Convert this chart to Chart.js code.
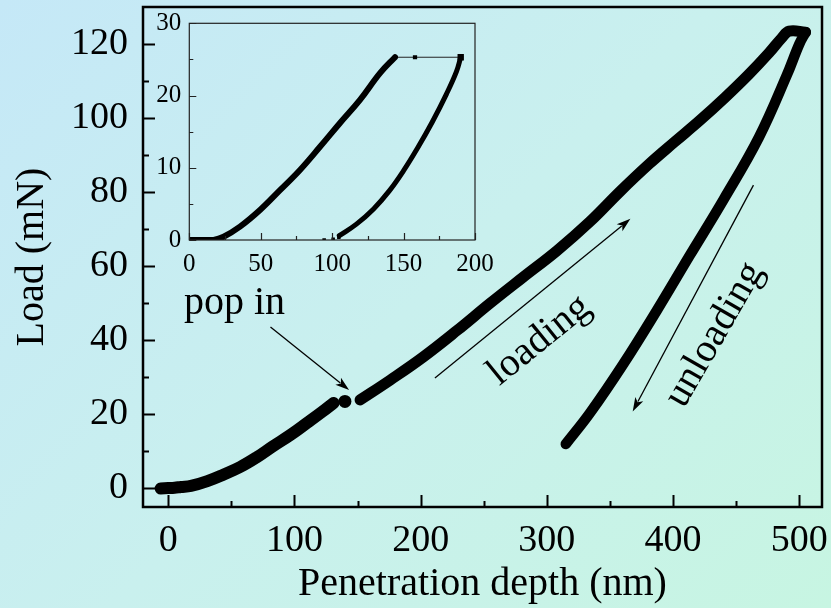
<!DOCTYPE html>
<html>
<head>
<meta charset="utf-8">
<script src="https://cdn.jsdelivr.net/npm/chart.js@4/dist/chart.umd.min.js"></script>
<style>
  html, body { margin: 0; padding: 0; }
  body {
    width: 831px; height: 608px; overflow: hidden; position: relative;
    background: linear-gradient(135deg, #c5e8f7 0%, #c9f0ee 50%, #c7f5e2 100%);
  }
  #main { position: absolute; left: 0; top: 0; }
  #inset { position: absolute; left: 140px; top: 0; }
</style>
</head>
<body>
<canvas id="main" width="831" height="608"></canvas>
<canvas id="inset" width="370" height="280"></canvas>
<script>
// main curve: loading up to the pop-in, the pop-in point, then loading + unloading
const loadDepthA = [-6, 0, 5, 10, 18, 31, 44, 57, 70, 83, 97, 110, 122, 131];
const loadForceA = [0, 0.1, 0.2, 0.4, 0.7, 2.0, 3.8, 5.8, 8.4, 11.4, 14.5, 17.7, 20.7, 23.1];
const popInDepth = [140];
const popInForce = [23.5];
const loadDepthB = [152, 176, 202, 229, 255, 281, 308, 334, 358, 381, 401, 421, 441, 460, 476, 486, 492, 505];
const loadForceB = [23.9, 29.3, 35.5, 42.7, 50.0, 57.0, 64.2, 72.0, 80.2, 87.6, 93.5, 99.3, 105.5, 111.8, 117.6, 121.6, 123.5, 123.2];
const unloadDepth = [500, 490, 468, 440, 413, 387, 360, 334, 315];
const unloadForce = [120, 111.5, 94.8, 78.0, 62.8, 48.0, 33.3, 20.3, 12];

const mainXTicks = [0, 100, 200, 300, 400, 500];
const mainXMinor = [50, 150, 250, 350, 450];
const mainYTicks = [0, 20, 40, 60, 80, 100, 120];
const mainYMinor = [10, 30, 50, 70, 90, 110];

// inset curve
const insetLoadDepth = [0, 10, 17, 24, 35.5, 49.5, 63.5, 77.5, 91.5, 105.5, 119.5, 133.5, 144];
const insetLoadForce = [0, 0, 0, 0.45, 1.85, 4.15, 6.9, 9.7, 12.9, 16.2, 19.4, 23.1, 25.3];
const insetHoldDepth = [144, 158, 190];
const insetHoldForce = [25.3, 25.3, 25.3];
const insetUnloadDepth = [190, 187, 180, 170, 160, 150, 140, 129, 117, 105];
const insetUnloadForce = [25.3, 23.3, 20.2, 16.3, 12.8, 9.6, 6.8, 4.3, 2.2, 0.6];
const insetTailDepth = [94.4, 100.7, 104.7];
const insetTailForce = [0, 0.1, 0.4];

const insetXTicks = [0, 50, 100, 150, 200];
const insetXMinor = [25, 75, 125, 175];
const insetYTicks = [0, 10, 20, 30];
const insetYMinor = [5, 15, 25];

const serif = "'Liberation Serif', 'Times New Roman', serif";
const pts = (xs, ys) => xs.map((x, i) => ({ x, y: ys[i] }));

function noPad(s) {
  s.paddingLeft = 0; s.paddingRight = 0; s.paddingTop = 0; s.paddingBottom = 0;
}

function framePlugin(o) {
  return {
    id: 'frame',
    afterDraw(chart) {
      const { ctx, chartArea: a, scales: { x, y } } = chart;
      ctx.save();
      ctx.strokeStyle = o.color;
      ctx.lineWidth = o.frameWidth;
      ctx.strokeRect(a.left, a.top, a.right - a.left, a.bottom - a.top);
      ctx.lineWidth = o.tickWidth;
      ctx.beginPath();
      const xt = (vals, len) => vals.forEach(v => {
        const p = Math.round(x.getPixelForValue(v)) + 0.5;
        ctx.moveTo(p, a.bottom); ctx.lineTo(p, a.bottom - len);
      });
      const yt = (vals, len) => vals.forEach(v => {
        const p = Math.round(y.getPixelForValue(v)) + 0.5;
        ctx.moveTo(a.left, p); ctx.lineTo(a.left + len, p);
      });
      xt(o.xMajor, o.major); xt(o.xMinor, o.minor);
      yt(o.yMajor, o.major); yt(o.yMinor, o.minor);
      ctx.stroke();
      ctx.restore();
    }
  };
}

// annotations, positions in data units
const notes = {
  texts: [
    { text: 'pop in', x: 52.5, y: 47, angle: 0, baseline: 'alphabetic' },
    { text: 'loading', x: 294, y: 40, angle: -39, baseline: 'middle' },
    { text: 'unloading', x: 433, y: 41.5, angle: -60, baseline: 'middle' }
  ],
  arrows: [
    { x0: 81, y0: 43.6, x1: 143.3, y1: 26.6 },
    { x0: 211.3, y0: 29.8, x1: 366.2, y1: 72.8 },
    { x0: 463.7, y0: 81.9, x1: 368, y1: 20.8 }
  ]
};

const notesPlugin = {
  id: 'notes',
  afterDatasetsDraw(chart) {
    const { ctx, scales: { x, y } } = chart;
    ctx.save();
    ctx.fillStyle = '#000';
    ctx.strokeStyle = '#000';
    ctx.font = '40px ' + serif;
    notes.texts.forEach(t => {
      ctx.save();
      ctx.translate(x.getPixelForValue(t.x), y.getPixelForValue(t.y));
      ctx.rotate(t.angle * Math.PI / 180);
      ctx.textAlign = 'center';
      ctx.textBaseline = t.baseline;
      ctx.fillText(t.text, 0, 0);
      ctx.restore();
    });
    ctx.lineWidth = 1.3;
    notes.arrows.forEach(a => {
      const x0 = x.getPixelForValue(a.x0), y0 = y.getPixelForValue(a.y0);
      const x1 = x.getPixelForValue(a.x1), y1 = y.getPixelForValue(a.y1);
      const ang = Math.atan2(y1 - y0, x1 - x0);
      const L = 14, W = 4.5;
      ctx.beginPath();
      ctx.moveTo(x0, y0);
      ctx.lineTo(x1 - Math.cos(ang) * L * 0.8, y1 - Math.sin(ang) * L * 0.8);
      ctx.stroke();
      ctx.beginPath();
      ctx.moveTo(x1, y1);
      ctx.lineTo(x1 - Math.cos(ang) * L - Math.sin(ang) * W, y1 - Math.sin(ang) * L + Math.cos(ang) * W);
      ctx.lineTo(x1 - Math.cos(ang) * L * 0.75, y1 - Math.sin(ang) * L * 0.75);
      ctx.lineTo(x1 - Math.cos(ang) * L + Math.sin(ang) * W, y1 - Math.sin(ang) * L - Math.cos(ang) * W);
      ctx.closePath();
      ctx.fill();
    });
    ctx.restore();
  }
};

const curve = (data, width) => ({
  data, borderColor: '#000', backgroundColor: '#000', borderWidth: width,
  pointRadius: 0, tension: 0.4, borderCapStyle: 'round', borderJoinStyle: 'round', fill: false
});

new Chart(document.getElementById('main'), {
  type: 'line',
  data: {
    datasets: [
      curve(pts(loadDepthA, loadForceA), 12),
      { data: pts(popInDepth, popInForce), showLine: false, pointRadius: 6.5, pointBackgroundColor: '#000', pointBorderWidth: 0 },
      curve(pts(loadDepthB, loadForceB), 11),
      curve(pts([loadDepthB[loadDepthB.length - 1]].concat(unloadDepth), [loadForceB[loadForceB.length - 1]].concat(unloadForce)), 10.5)
    ]
  },
  options: {
    responsive: false, animation: false,
    layout: { padding: { left: 0, right: 9, top: 7, bottom: 0 } },
    plugins: { legend: { display: false }, tooltip: { enabled: false } },
    scales: {
      x: {
        type: 'linear', min: -20, max: 518,
        afterBuildTicks: s => { s.ticks = mainXTicks.map(v => ({ value: v })); },
        afterFit: s => { s.height = 101; noPad(s); },
        grid: { display: false, drawTicks: false }, border: { display: false },
        ticks: { color: '#000', font: { family: serif, size: 38 }, padding: 11, maxRotation: 0, autoSkip: false },
        title: { display: true, text: 'Penetration depth (nm)', color: '#000', font: { family: serif, size: 40 }, padding: { top: 0, bottom: 0 } }
      },
      y: {
        type: 'linear', min: -5, max: 130,
        afterBuildTicks: s => { s.ticks = mainYTicks.map(v => ({ value: v })); },
        afterFit: s => { s.width = 143; noPad(s); },
        grid: { display: false, drawTicks: false }, border: { display: false },
        ticks: { color: '#000', font: { family: serif, size: 38 }, padding: 15, autoSkip: false },
        title: { display: true, text: 'Load (mN)', color: '#000', font: { family: serif, size: 40 }, padding: { top: 8, bottom: 0 } }
      }
    }
  },
  plugins: [
    framePlugin({ color: '#000', frameWidth: 2.5, tickWidth: 2, major: 12, minor: 6,
      xMajor: mainXTicks, xMinor: mainXMinor, yMajor: mainYTicks, yMinor: mainYMinor }),
    notesPlugin
  ]
});

new Chart(document.getElementById('inset'), {
  type: 'line',
  data: {
    datasets: [
      curve(pts(insetLoadDepth, insetLoadForce), 6),
      { data: pts(insetHoldDepth, insetHoldForce), borderColor: '#222', borderWidth: 1, pointStyle: 'rect',
        pointRadius: [3, 3, 4.5], pointBackgroundColor: '#000', pointBorderWidth: 0 },
      curve(pts(insetUnloadDepth, insetUnloadForce), 5),
      { data: pts(insetTailDepth, insetTailForce), showLine: false, pointStyle: 'rect', pointRadius: 2.5,
        pointBackgroundColor: '#000', pointBorderWidth: 0 }
    ]
  },
  options: {
    responsive: false, animation: false,
    layout: { padding: { left: 0, right: 35, top: 23.3, bottom: 0 } },
    plugins: { legend: { display: false }, tooltip: { enabled: false } },
    scales: {
      x: {
        type: 'linear', min: 0, max: 200,
        afterBuildTicks: s => { s.ticks = insetXTicks.map(v => ({ value: v })); },
        afterFit: s => { s.height = 40; noPad(s); },
        grid: { display: false, drawTicks: false }, border: { display: false },
        ticks: { color: '#000', font: { family: serif, size: 25 }, padding: 9, maxRotation: 0, autoSkip: false }
      },
      y: {
        type: 'linear', min: 0, max: 30,
        afterBuildTicks: s => { s.ticks = insetYTicks.map(v => ({ value: v })); },
        afterFit: s => { s.width = 49.3; noPad(s); },
        grid: { display: false, drawTicks: false }, border: { display: false },
        ticks: { color: '#000', font: { family: serif, size: 25 }, padding: 8, autoSkip: false }
      }
    }
  },
  plugins: [
    framePlugin({ color: '#222', frameWidth: 1.2, tickWidth: 1.2, major: 7, minor: 4,
      xMajor: insetXTicks, xMinor: insetXMinor, yMajor: insetYTicks, yMinor: insetYMinor })
  ]
});
</script>
</body>
</html>
